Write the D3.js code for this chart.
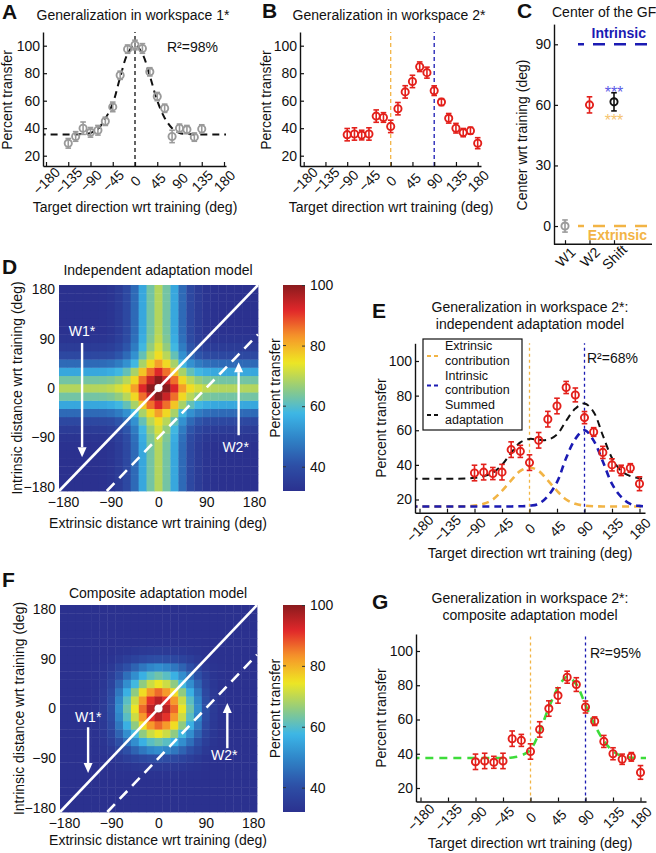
<!DOCTYPE html>
<html>
<head>
<meta charset="utf-8">
<script src="https://cdn.jsdelivr.net/npm/d3@7/dist/d3.min.js"></script>
<style>
html,body{margin:0;padding:0;background:#fff;}
svg{display:block;}
</style>
</head>
<body>
<svg id="fig" width="656" height="853"></svg>
<script>
// ================= DATA =================
const dirTicks = [-180, -135, -90, -45, 0, 45, 90, 135, 180];
const percentTicks = [20, 40, 60, 80, 100];

// Panel A: workspace 1 generalization
const w1Dirs = [-135,-120,-105,-90,-75,-60,-45,-30,-15,0,15,30,45,60,75,90,105,120,135];
const w1Transfer = [29,34,40,37,38.5,45,55.5,78.5,97.5,100.5,98,81,63,54.5,34,40,39,33.5,39.5];
const w1Err = [3.5,3.5,4.5,3.5,3.5,3,3.5,3,3,3.5,3.5,3,3,3,4.5,3,3,3,3];

// Panels B, E, G: workspace 2 generalization
const w2Dirs = [-90,-75,-60,-45,-30,-15,0,15,30,45,60,75,90,105,120,135,150,165,180];
const w2Transfer = [35.3,35.8,35,35.8,48.8,47.8,41.3,54.2,66.4,74,84.7,80.4,67.3,59,47.2,40,36.8,38.2,29.1];
const w2Err = [4.5,4.5,3.5,4.5,4.5,3.5,4.5,4.5,4.5,4.5,3.5,4,3.5,2.5,3.5,3.5,3,2.5,4];

// Fitted / model curves sampled every 15 deg
const fitDirs = [-195,-180,-165,-150,-135,-120,-105,-90,-75,-60,-45,-30,-15,0,15,30,45,60,75,90,105,120,135,150,165,180,195];
const w1Fit = [35.5,35.5,35.5,35.5,35.5,35.5,35.8,36.5,39.5,47,58,77,94,100.5,94,78,60,47.5,40,36.5,35.8,35.5,35.5,35.5,35.5,35.5,35.5];
const extrinsicContribution = [16,16,16,16,16,16,16.1,16.5,17.5,20,25,31,36.5,38.5,36.5,31,25,20,17.5,16.5,16.1,16,16,16,16,16,16];
const intrinsicContribution = [16,16,16,16,16,16,16,16,16,16,16,16,16.1,16.4,17.5,22,30,44,55,60,54,42,29,21.5,17.5,16.3,16];
const summedAdaptation = [32,32,32,32,32,32,32.1,32.5,33.5,35.5,40,47,53,55,54.5,54.5,57.5,65.5,72.5,75.5,70.5,57,44,36.5,33.5,32.3,32];
const compositeFit = [37.5,37.5,37.5,37.5,37.5,37.5,37.5,37.5,37.5,37.5,37.5,37.8,39,42.5,53,67,78.5,85,80.5,68.5,57,47.5,41.5,38.5,37.7,37.5,37.5];

// Panel C: center of the generalization function
const centerConditions = ["W1", "W2", "Shift"];
const centerValues = [0, 60, 61.5];
const centerErr = [3, 4, 4.5];
const centerTicks = [0, 30, 60, 90];
const referenceNames = ["Intrinsic", "Extrinsic"];
const referenceCenters = [90, 0];
const significanceLevels = [68, 54];

// Panels D, F: model maps
const mapDirs = [-180,-165,-150,-135,-120,-105,-90,-75,-60,-45,-30,-15,0,15,30,45,60,75,90,105,120,135,150,165,180];
const mapTicks = [-180, -90, 0, 90, 180];
const indepExtrinsic = [16,16,16,16,16,16.2,17,19,22.5,29,39,47,53,47,39,29,22.5,19,17,16.2,16,16,16,16,16];
const indepIntrinsic = [16,16,16,16,16,16.2,17,19,22.5,29,39,47,53,47,39,29,22.5,19,17,16.2,16,16,16,16,16];
const compositeProfile = [0,0,0,0,0.01,0.04,0.12,0.28,0.45,0.62,0.8,0.93,1,0.93,0.8,0.62,0.45,0.28,0.12,0.04,0.01,0,0,0,0];
const compositeRange = [32, 100];
const colorLimits = [32, 100];
const colorbarTicks = [40, 60, 80, 100];
const workspaceOffsets = [0, 90];

// ================= DRAWING =================
const svg = d3.select("#fig");
const FONT = "'Liberation Sans', Arial, Helvetica, sans-serif";
const RED = "#e3201b", GRAY = "#9a9a9a", ORANGE = "#f2b445", BLUE = "#1b1bb3", GREEN = "#3ddc3a", INK = "#111";

function label(x, y, str, o = {}) {
  const t = svg.append("text").attr("x", x).attr("y", y).text(str)
    .attr("font-family", FONT).attr("font-size", o.size || 14)
    .attr("text-anchor", o.anchor || "start").attr("fill", o.fill || INK);
  if (o.bold) t.attr("font-weight", "bold");
  if (o.rotate) t.attr("transform", `rotate(${o.rotate},${x},${y})`);
  return t;
}

function styleAxis(a) {
  a.attr("font-family", FONT).attr("font-size", 14);
  a.select(".domain").attr("stroke", INK).attr("stroke-width", 1.4);
  a.selectAll(".tick line").attr("stroke", INK).attr("stroke-width", 1.2);
  a.selectAll(".tick text").attr("fill", INK);
}

function linePanel(p) {
  const bx = d3.scaleLinear().domain([-180, 180]).range(p.xPix);
  const x = d3.scaleLinear().domain(p.xEdge.map(v => bx.invert(v))).range(p.xEdge);
  const by = d3.scaleLinear().domain([20, 100]).range(p.yPix);
  const y = d3.scaleLinear().domain(p.yEdge.map(v => by.invert(v))).range(p.yEdge);
  const g = svg.append("g");
  const clipId = "clip" + p.id;
  g.append("clipPath").attr("id", clipId).append("rect")
    .attr("x", p.xEdge[0]).attr("y", p.yEdge[1])
    .attr("width", p.xEdge[1] - p.xEdge[0]).attr("height", p.yEdge[0] - p.yEdge[1]);
  const layer = g.append("g");
  const gx = g.append("g").attr("transform", `translate(0,${p.yEdge[0]})`)
    .call(d3.axisBottom(x).tickValues(dirTicks).tickSize(-4).tickSizeOuter(0).tickPadding(0).tickFormat(d3.format("d")));
  gx.selectAll(".tick text").attr("y", 0).attr("dy", "0.35em").attr("text-anchor", "middle")
    .attr("transform", `translate(0,${p.labOff}) rotate(-45)`);
  const gy = g.append("g").attr("transform", `translate(${p.xEdge[0]},0)`)
    .call(d3.axisLeft(y).tickValues(percentTicks).tickSize(-4).tickSizeOuter(0).tickPadding(3));
  styleAxis(gx); styleAxis(gy);
  return { g: layer, x, y, clipId, p };
}

function vline(P, v, color, w, dash) {
  P.g.append("line").attr("x1", P.x(v)).attr("x2", P.x(v))
    .attr("y1", P.p.yEdge[0]).attr("y2", P.p.yEdge[1])
    .attr("stroke", color).attr("stroke-width", w).attr("stroke-dasharray", dash);
}

function curve(P, xs, ys, color, w, dash) {
  const line = d3.line().x((d, i) => P.x(xs[i])).y(d => P.y(d)).curve(d3.curveCatmullRom.alpha(0.5));
  P.g.append("path").datum(ys).attr("d", line).attr("fill", "none")
    .attr("stroke", color).attr("stroke-width", w).attr("stroke-dasharray", dash)
    .attr("clip-path", `url(#${P.clipId})`);
}

function points(P, dirs, vals, errs, color) {
  const data = dirs.map((d, i) => ({ d, v: vals[i], e: errs[i] }));
  const grp = P.g.append("g").attr("stroke", color).attr("fill", "none");
  const s = grp.selectAll("g").data(data).join("g");
  s.append("line").attr("x1", d => P.x(d.d)).attr("x2", d => P.x(d.d))
    .attr("y1", d => P.y(d.v - d.e)).attr("y2", d => P.y(d.v + d.e)).attr("stroke-width", 1.6);
  s.append("line").attr("x1", d => P.x(d.d) - 2.8).attr("x2", d => P.x(d.d) + 2.8)
    .attr("y1", d => P.y(d.v - d.e)).attr("y2", d => P.y(d.v - d.e)).attr("stroke-width", 1.6);
  s.append("line").attr("x1", d => P.x(d.d) - 2.8).attr("x2", d => P.x(d.d) + 2.8)
    .attr("y1", d => P.y(d.v + d.e)).attr("y2", d => P.y(d.v + d.e)).attr("stroke-width", 1.6);
  s.append("circle").attr("cx", d => P.x(d.d)).attr("cy", d => P.y(d.v)).attr("r", 3.6)
    .attr("stroke-width", 1.9).attr("fill", "none");
}

// ---------- Panel A ----------
const A = linePanel({ id: "A", xPix: [46, 224], xEdge: [43, 226], yPix: [155.7, 45.7], yEdge: [166, 32], labOff: 15 });
vline(A, 0, INK, 1.3, "4,3");
curve(A, fitDirs, w1Fit, INK, 2, "7,5");
points(A, w1Dirs, w1Transfer, w1Err, GRAY);
label(2, 19, "A", { size: 21, bold: true });
label(133, 20, "Generalization in workspace 1*", { anchor: "middle" });
label(167, 52, "R²=98%");
label(12, 100, "Percent transfer", { anchor: "middle", rotate: -90 });
label(135, 212, "Target direction wrt training (deg)", { anchor: "middle" });

// ---------- Panel B ----------
const B = linePanel({ id: "B", xPix: [303.7, 477.7], xEdge: [300, 481], yPix: [155.7, 45.7], yEdge: [166, 32], labOff: 15 });
vline(B, workspaceOffsets[0], ORANGE, 1.3, "4,3");
vline(B, workspaceOffsets[1], BLUE, 1.3, "4,3");
points(B, w2Dirs, w2Transfer, w2Err, RED);
label(262, 18, "B", { size: 21, bold: true });
label(389, 20, "Generalization in workspace 2*", { anchor: "middle" });
label(271, 100, "Percent transfer", { anchor: "middle", rotate: -90 });
label(391, 212, "Target direction wrt training (deg)", { anchor: "middle" });

// ---------- Panel C ----------
(function () {
  const y = d3.scaleLinear().domain([-9, 100]).range([244.2, 24.1]);
  const x = d3.scalePoint().domain(centerConditions).range([565, 614]);
  const g = svg.append("g");
  const gy = g.append("g").attr("transform", "translate(554,0)")
    .call(d3.axisLeft(y).tickValues(centerTicks).tickSize(-4).tickSizeOuter(0).tickPadding(3));
  styleAxis(gy);
  const gx = g.append("g").attr("transform", "translate(0,244.2)")
    .call(d3.axisBottom(x).tickSize(-4).tickSizeOuter(0).tickPadding(0));
  styleAxis(gx);
  gx.select(".domain").remove();
  gx.append("line").attr("x1", 554).attr("x2", 652).attr("stroke", INK).attr("stroke-width", 1.4);
  gx.selectAll(".tick text").attr("y", 0).attr("dy", "0.35em").attr("text-anchor", "middle")
    .attr("transform", "translate(0,13) rotate(-45)");
  const refColors = [BLUE, ORANGE];
  referenceCenters.forEach((v, i) => {
    g.append("line").attr("x1", 578).attr("x2", 652).attr("y1", y(v)).attr("y2", y(v))
      .attr("stroke", refColors[i]).attr("stroke-width", 2.6).attr("stroke-dasharray", "12,9")
      .attr("stroke-dashoffset", 6);
  });
  label(646, y(referenceCenters[0]) - 6, referenceNames[0], { anchor: "end", bold: true, fill: BLUE });
  label(647, y(referenceCenters[1]) + 14, referenceNames[1], { anchor: "end", bold: true, fill: ORANGE });
  const cols = [GRAY, RED, INK];
  centerConditions.forEach((c, i) => {
    const cx = x(c), v = centerValues[i], e = centerErr[i];
    const s = g.append("g").attr("stroke", cols[i]).attr("fill", "none").attr("stroke-width", 1.6);
    s.append("line").attr("x1", cx).attr("x2", cx).attr("y1", y(v - e)).attr("y2", y(v + e));
    s.append("line").attr("x1", cx - 2.8).attr("x2", cx + 2.8).attr("y1", y(v - e)).attr("y2", y(v - e));
    s.append("line").attr("x1", cx - 2.8).attr("x2", cx + 2.8).attr("y1", y(v + e)).attr("y2", y(v + e));
    s.append("circle").attr("cx", cx).attr("cy", y(v)).attr("r", 3.6).attr("stroke-width", 1.9);
  });
  const starCols = ["#5a5ae6", "#f5c46e"];
  significanceLevels.forEach((v, i) => {
    label(x("Shift"), y(v) + 9, "***", { anchor: "middle", fill: starCols[i], size: 16 });
  });
  label(517, 18, "C", { size: 21, bold: true });
  label(552, 17, "Center of the GF");
  label(527, 135, "Center wrt training (deg)", { anchor: "middle", rotate: -90 });
})();

// ---------- Heat map panels ----------
const jetPos = [0, 0.125, 0.25, 0.375, 0.5, 0.625, 0.75, 0.875, 1];
const jetCols = ["#2b318f", "#2d4fa6", "#2f82c6", "#3cb6e7", "#92cc7f", "#efe622", "#f6962a", "#e2282a", "#8a1b1e"];
const jet = d3.scaleLinear().domain(jetPos).range(jetCols).clamp(true);
const colorOf = v => jet((v - colorLimits[0]) / (colorLimits[1] - colorLimits[0]));

function arrow(g, x, yFrom, yTo) {
  const dir = Math.sign(yTo - yFrom), head = 10, hw = 4.5;
  g.append("line").attr("x1", x).attr("x2", x).attr("y1", yFrom).attr("y2", yTo - dir * head)
    .attr("stroke", "#fff").attr("stroke-width", 2.4);
  g.append("path").attr("d", `M${x - hw},${yTo - dir * head}L${x + hw},${yTo - dir * head}L${x},${yTo}Z`).attr("fill", "#fff");
}

function heatPanel(p, valueAt) {
  const hx = d3.scaleLinear().domain([-187.5, 187.5]).range(p.xr);
  const hy = d3.scaleLinear().domain([-187.5, 187.5]).range(p.yr);
  const g = svg.append("g");
  const cells = d3.cross(d3.range(mapDirs.length), d3.range(mapDirs.length));
  g.selectAll("rect").data(cells).join("rect")
    .attr("x", d => hx(mapDirs[d[0]] - 7.5)).attr("width", d => hx(mapDirs[d[0]] + 7.5) - hx(mapDirs[d[0]] - 7.5) + 0.4)
    .attr("y", d => hy(mapDirs[d[1]] + 7.5)).attr("height", d => hy(mapDirs[d[1]] - 7.5) - hy(mapDirs[d[1]] + 7.5) + 0.4)
    .attr("fill", d => colorOf(valueAt(d[0], d[1])));
  // workspace lines: intrinsic = extrinsic - offset
  const lim = 187.5;
  workspaceOffsets.forEach((off, k) => {
    g.append("line").attr("x1", hx(-lim + off)).attr("y1", hy(-lim)).attr("x2", hx(lim)).attr("y2", hy(lim - off))
      .attr("stroke", "#fff").attr("stroke-width", 2.6).attr("stroke-dasharray", k ? "11,7" : null);
  });
  g.append("circle").attr("cx", hx(0)).attr("cy", hy(0)).attr("r", 4).attr("fill", "#fff");
  // arrows
  arrow(g, hx(p.w1[0]), hy(p.w1[1]), hy(p.w1[2]));
  arrow(g, hx(p.w2[0]), hy(p.w2[1]), hy(p.w2[2]));
  const t1 = g.append("text").attr("x", hx(p.w1[0])).attr("y", hy(p.w1l)).text("W1*");
  const t2 = g.append("text").attr("x", hx(p.w2[0]) - 3).attr("y", hy(p.w2l)).text("W2*");
  [t1, t2].forEach(t => t.attr("fill", "#fff").attr("font-family", FONT).attr("font-size", 14).attr("text-anchor", "middle"));
  // axes
  const ax = g.append("g").attr("transform", `translate(0,${p.yr[0]})`)
    .call(d3.axisBottom(hx).tickValues(mapTicks).tickSize(0).tickPadding(6).tickFormat(d3.format("d")));
  const ay = g.append("g").attr("transform", `translate(${p.xr[0]},0)`)
    .call(d3.axisLeft(hy).tickValues(mapTicks).tickSize(0).tickPadding(4).tickFormat(d3.format("d")));
  [ax, ay].forEach(a => { styleAxis(a); a.select(".domain").remove(); });
  // colorbar
  const cb = d3.scaleLinear().domain(colorLimits).range([p.yr[0], p.yr[1]]);
  const gid = "grad" + p.id;
  const grad = svg.append("defs").append("linearGradient").attr("id", gid)
    .attr("x1", 0).attr("y1", 1).attr("x2", 0).attr("y2", 0);
  d3.range(0, 1.0001, 0.02).forEach(t => {
    grad.append("stop").attr("offset", t).attr("stop-color", jet(t));
  });
  g.append("rect").attr("x", 283).attr("y", p.yr[1]).attr("width", 22).attr("height", p.yr[0] - p.yr[1])
    .attr("fill", `url(#${gid})`);
  const ac = g.append("g").attr("transform", "translate(305,0)")
    .call(d3.axisRight(cb).tickValues(colorbarTicks).tickSize(-3).tickSizeOuter(0).tickPadding(5));
  styleAxis(ac); ac.select(".domain").remove();
  ac.selectAll(".tick line").attr("stroke", "#333").attr("stroke-width", 1);
  g.selectAll(".cbl").data(colorbarTicks.filter(v => v < colorLimits[1])).join("line")
    .attr("x1", 283).attr("x2", 286).attr("y1", d => cb(d)).attr("y2", d => cb(d)).attr("stroke", "#333");
  label(280, (p.yr[0] + p.yr[1]) / 2, "Percent transfer", { anchor: "middle", rotate: -90 });
  label(2, p.letterY, p.letter, { size: 21, bold: true });
  label(158, p.titleY, p.title, { anchor: "middle" });
  label(158, p.xlabY, "Extrinsic distance wrt training (deg)", { anchor: "middle" });
  label(p.ylabX, (p.yr[0] + p.yr[1]) / 2, "Intrinsic distance wrt training (deg)", { anchor: "middle", rotate: -90 });
}

heatPanel({ id: "D", xr: [59, 258], yr: [491, 285], letter: "D", letterY: 274, title: "Independent adaptation model", titleY: 275,
  xlabY: 528, ylabX: 22, w1: [-144, 82, -126], w1l: 95, w2: [151, -86, 47], w2l: -117 },
  (e, i) => indepExtrinsic[e] + indepIntrinsic[i]);

heatPanel({ id: "F", xr: [60, 257], yr: [812, 605], letter: "F", letterY: 587, title: "Composite adaptation model", titleY: 598,
  xlabY: 845, ylabX: 24, w1: [-134, -34, -117], w1l: -24, w2: [131, -72, 10], w2l: -94 },
  (e, i) => compositeRange[0] + (compositeRange[1] - compositeRange[0]) * compositeProfile[e] * compositeProfile[i]);

// ---------- Panel E ----------
const E = linePanel({ id: "E", xPix: [419.5, 639.5], xEdge: [415, 645], yPix: [499.5, 361], yEdge: [512.7, 343.3], labOff: 16 });
vline(E, workspaceOffsets[0], ORANGE, 1.3, "3,3");
vline(E, workspaceOffsets[1], BLUE, 1.3, "3,3");
curve(E, fitDirs, extrinsicContribution, ORANGE, 2.6, "7,5");
curve(E, fitDirs, intrinsicContribution, BLUE, 2.6, "7,5");
curve(E, fitDirs, summedAdaptation, INK, 2, "7,5");
points(E, w2Dirs, w2Transfer, w2Err, RED);
(function () {
  const g = svg.append("g");
  g.append("rect").attr("x", 423).attr("y", 339).attr("width", 99).attr("height", 91)
    .attr("fill", "#fff").attr("stroke", INK).attr("stroke-width", 1.2);
  const entries = [["Extrinsic", "contribution", ORANGE], ["Intrinsic", "contribution", BLUE], ["Summed", "adaptation", INK]];
  entries.forEach((en, k) => {
    const y0 = 350 + k * 29.5;
    g.append("line").attr("x1", 427).attr("x2", 441).attr("y1", y0 + 6).attr("y2", y0 + 6)
      .attr("stroke", en[2]).attr("stroke-width", 2.2).attr("stroke-dasharray", "4,3");
    label(445, y0, en[0], { size: 12.5 });
    label(445, y0 + 14.5, en[1], { size: 12.5 });
  });
})();
label(372, 318, "E", { size: 21, bold: true });
label(530, 312, "Generalization in workspace 2*:", { anchor: "middle" });
label(530, 329, "independent adaptation model", { anchor: "middle" });
label(587, 363, "R²=68%");
label(386, 428, "Percent transfer", { anchor: "middle", rotate: -90 });
label(530, 558, "Target direction wrt training (deg)", { anchor: "middle" });

// ---------- Panel G ----------
const G = linePanel({ id: "G", xPix: [420.5, 640.5], xEdge: [416, 646], yPix: [788, 651], yEdge: [801.5, 634], labOff: 16 });
vline(G, workspaceOffsets[0], ORANGE, 1.3, "3,3");
vline(G, workspaceOffsets[1], BLUE, 1.3, "3,3");
curve(G, fitDirs, compositeFit, GREEN, 2.6, "8,6");
points(G, w2Dirs, w2Transfer, w2Err, RED);
label(372, 609, "G", { size: 21, bold: true });
label(530, 603, "Generalization in workspace 2*:", { anchor: "middle" });
label(530, 620, "composite adaptation model", { anchor: "middle" });
label(590, 658, "R²=95%");
label(386, 718, "Percent transfer", { anchor: "middle", rotate: -90 });
label(530, 848, "Target direction wrt training (deg)", { anchor: "middle" });
</script>
</body>
</html>
